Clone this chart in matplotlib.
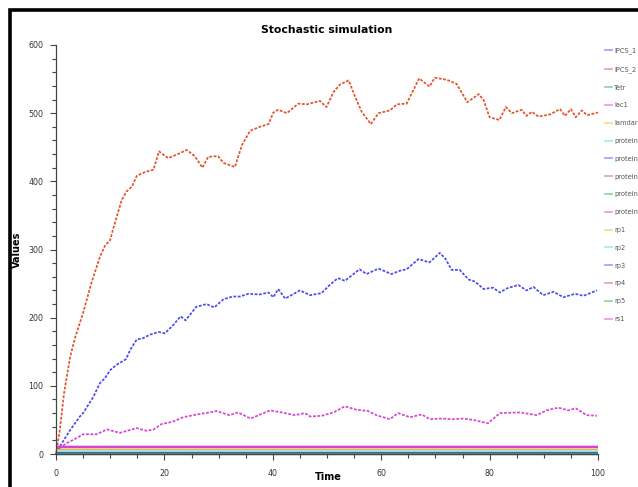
import matplotlib
matplotlib.use("Agg")
import matplotlib.pyplot as plt
from matplotlib.lines import Line2D
from matplotlib.patches import Rectangle
from matplotlib.ticker import MultipleLocator

# ---- data ----
t_ipcs2 = [0, 0.7, 1.5, 2.6, 3.5, 5, 6.5, 8.1, 9, 10, 10.5, 12.1, 13, 14, 14.9, 16.5, 18, 19, 20.7,
           22.5, 24.1, 25.6, 27, 28.1, 29.9, 30.9, 33, 34.3, 35.8, 37.6, 39.2, 40.1, 41, 42.6, 44.7,
           46.3, 48.7, 49.9, 51.2, 52.4, 54, 55.2, 56.4, 58.1, 59.5, 61.6, 62.9, 64.7, 67, 68.9, 69.9,
           72.1, 73.9, 75.9, 78, 78.9, 80, 81.8, 83, 84.1, 85.9, 86.8, 87.8, 89, 91.1, 93, 93.9, 95,
           95.9, 97, 98, 100]
v_ipcs2 = [0, 35, 90, 142, 170, 207, 250, 289, 305, 314, 329, 372, 385, 392, 408, 414, 417, 444, 434,
           440, 446, 437, 420, 436, 437, 427, 421, 453, 474, 480, 484, 501, 505, 500, 514,
           513, 518, 509, 531, 542, 548, 524, 502, 484, 500, 504, 513, 514, 551, 539, 552,
           549, 543, 516, 528, 519, 494, 490, 509, 500, 505, 496, 502, 495, 498, 506, 496, 506,
           494, 504, 497, 501]

t_ipcs1 = [0, 1, 2.6, 4.4, 5, 6.9, 8.1, 9, 10, 11.2, 12.9, 13.7, 14.9, 16.1, 17.3, 18.9, 20.1, 21.6,
           23, 23.9, 25.9, 27.8, 29.2, 30.9, 32.6, 33.9, 35.5, 37.6, 39.2, 40.1, 41, 42.3, 45, 46.9,
           49, 50.5, 52, 53.3, 56, 57.3, 59.5, 61.9, 63.5, 64.7, 66.9, 68.9, 70.8, 71.8, 73, 74.5,
           76.1, 77.3, 78.9, 80.6, 81.9, 83.2, 85.3, 86.8, 88.1, 89.9, 91.8, 93.6, 95.8, 97.3, 99.8]
v_ipcs1 = [0, 15, 35, 55, 60, 84, 104, 111, 123, 131, 139, 153, 168, 170, 175, 179, 177, 189,
           202, 196, 216, 220, 215, 227, 231, 231, 235, 234, 237, 230, 242, 228, 240, 233,
           236, 248, 258, 254, 271, 264, 272, 264, 269, 271, 286, 281, 295, 287, 270, 270,
           256, 253, 242, 244, 237, 243, 248, 240, 245, 233, 238, 230, 235, 232, 240]

t_lac1 = [0, 1.96, 3.5, 5, 7.5, 9.4, 11.8, 14.9, 16.7, 18, 19.5, 21.4, 23.5, 26, 28.4, 29.6, 32, 33.6,
          35.9, 39.5, 41.6, 44.1, 45.9, 46.9, 49, 51.2, 53.3, 55.4, 57.6, 59.1, 61.6, 63.1, 65.3,
          67.5, 69, 71, 73.3, 75.1, 77, 79.7, 81.9, 85.6, 88.7, 90.5, 92.7, 94.5, 95.9, 97.9, 99.8]
v_lac1 = [5, 16, 22, 29, 29, 36, 31, 38, 34, 36, 44, 47, 54, 58, 61, 63, 57, 61,
          52, 64, 61, 57, 60, 55, 56, 61, 70, 65, 63, 57, 51, 60, 54, 58, 51, 52, 51, 52, 50, 45,
          60, 61, 57, 64, 68, 64, 67, 57, 56]

t_flat = [0, 100]
t_short = [0, 5, 5, 100]
names = ["IPCS_1", "IPCS_2", "Tetr", "lac1", "lamdar", "protein", "protein", "protein",
         "protein", "protein", "rp1", "rp2", "rp3", "rp4", "rp5", "rs1"]
v_tetr = [0, 0]
v_lamdar = [6, 6]
v_prot_cyan = [4, 4]
v_prot_blue = [1.5, 1.5]
v_prot_orange = [4, 4, 0, 0]
v_prot_green = [0, 0]
v_prot_magenta = [10, 10]
v_rp1 = [6, 6]
v_rp2 = [4, 4]
v_rp3 = [1, 1]
v_rp4 = [0, 0]
v_rp5 = [0, 0]
v_rs1 = [10, 10]

BLUE = "#4a4af0"
ORANGE = "#e2532d"
GREEN = "#33b033"
MAGENTA = "#d445d4"
YELLOW = "#e3c21a"
CYAN = "#a8dede"
colors = [BLUE, ORANGE, GREEN, MAGENTA, YELLOW, CYAN, BLUE, ORANGE, GREEN, MAGENTA,
          YELLOW, CYAN, BLUE, ORANGE, GREEN, MAGENTA]
legend_colors = [BLUE, ORANGE, GREEN, MAGENTA, YELLOW, "#5fd3d3", BLUE, ORANGE, GREEN, MAGENTA,
                 YELLOW, "#5fd3d3", BLUE, ORANGE, GREEN, MAGENTA]

series = [
    (t_ipcs1, v_ipcs1), (t_ipcs2, v_ipcs2), (t_flat, v_tetr), (t_lac1, v_lac1),
    (t_flat, v_lamdar), (t_flat, v_prot_cyan), (t_flat, v_prot_blue), (t_short, v_prot_orange),
    (t_flat, v_prot_green), (t_flat, v_prot_magenta), (t_flat, v_rp1), (t_flat, v_rp2),
    (t_flat, v_rp3), (t_flat, v_rp4), (t_flat, v_rp5), (t_flat, v_rs1),
]

fig = plt.figure(figsize=(6.38, 4.87), dpi=100)
ax = fig.add_axes([56 / 638, 1 - 454 / 487, (598 - 56) / 638, (454 - 45) / 487])

for (tt, vv), c in zip(series, colors):
    flat = len(tt) <= 4
    if flat:
        ax.plot(tt, vv, color=c, lw=1.7 if c == MAGENTA else 1.5,
                solid_capstyle="butt", clip_on=False)
    else:
        ax.plot(tt, vv, color=c, lw=1.25, linestyle=(0, (1.6, 0.9)),
                dash_capstyle="butt", clip_on=False)

ax.set_xlim(0, 100)
ax.set_ylim(0, 600)
for s in ["top", "right"]:
    ax.spines[s].set_visible(False)
for s in ["left", "bottom"]:
    ax.spines[s].set_color("#444444")
    ax.spines[s].set_linewidth(0.9)
ax.xaxis.set_major_locator(MultipleLocator(20))
ax.xaxis.set_minor_locator(MultipleLocator(5))
ax.yaxis.set_major_locator(MultipleLocator(100))
ax.yaxis.set_minor_locator(MultipleLocator(20))
ax.tick_params(which="major", length=4, width=0.8, color="#444444", labelsize=5.7,
               labelcolor="#333333")
ax.tick_params(which="minor", length=3, width=0.8, color="#444444")
ax.tick_params(axis="x", which="major", pad=7)
ax.tick_params(axis="y", which="major", pad=5)

ax.set_title("Stochastic simulation", fontsize=7.8, fontweight="bold", pad=9)
ax.set_xlabel("Time", fontsize=7, fontweight="bold")
ax.xaxis.set_label_coords((328 - 56) / 542, -0.045)
ax.set_ylabel("Values", fontsize=7, fontweight="bold")
ax.yaxis.set_label_coords((22 - 56) / 542, 0.5)

handles = [Line2D([], [], color=c, lw=1.2, alpha=0.55) for c in legend_colors]
leg = fig.legend(handles, names, loc="upper left", bbox_to_anchor=(605 / 638, 1 - 47.5 / 487),
                 frameon=False, fontsize=4.8, handlelength=1.0, handletextpad=0.4,
                 labelspacing=1.77, borderaxespad=0, borderpad=0)
for txt in leg.get_texts():
    txt.set_color("#555555")

# black frame around the figure (cropped at right/bottom)
fig.patches.append(Rectangle((10 / 638, -0.1), 2, 1.1 - 10 / 487, transform=fig.transFigure,
                             fill=False, edgecolor="black", lw=2.6, zorder=10))

fig.savefig("out.png", dpi=100)
